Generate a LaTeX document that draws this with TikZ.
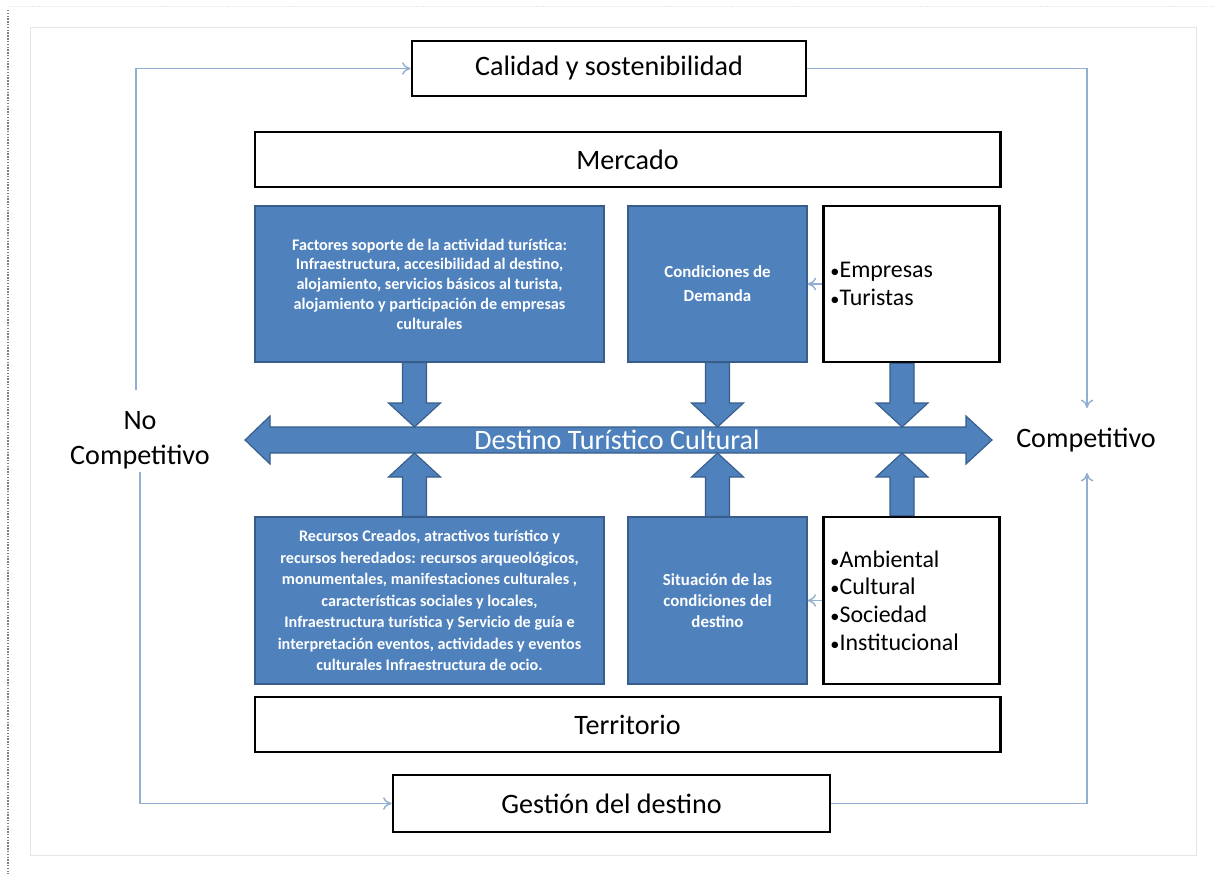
\documentclass[tikz,border=0pt]{standalone}
\usepackage{fontspec}
\setmainfont{Carlito}
\usetikzlibrary{calc,arrows.meta}
\definecolor{boxblue}{RGB}{79,129,189}
\definecolor{edgeblue}{RGB}{56,93,138}
\definecolor{linkblue}{RGB}{146,174,208}
\definecolor{framegray}{RGB}{226,229,233}

\tikzset{
  plainbox/.style={draw=black,line width=2pt,fill=white,inner sep=0pt},
  bluebox/.style={draw=edgeblue,fill=boxblue,line width=0.8pt,text=white,align=center,inner sep=0pt,font=\bfseries\fontsize{11.5}{14}\selectfont},
  blockarrow/.style={draw=edgeblue,fill=boxblue,line width=0.8pt,line join=miter},
  link/.style={linkblue,line width=1pt,->},
  bigtext/.style={font=\fontsize{20}{25}\selectfont},
  listbox/.style={plainbox,align=left,text width=4.05cm,inner xsep=0.18cm,font=\fontsize{17}{19.6}\selectfont}
}

% vertical block arrow: start, tip, direction (1 down, -1 up)
\newcommand{\vblock}[3]{%
  \draw[blockarrow] ($(#1)+(-12,0)$) -- ($(#2)+(-12,{-24*(#3)})$) -- ($(#2)+(-26,{-24*(#3)})$) -- (#2)
    -- ($(#2)+(26,{-24*(#3)})$) -- ($(#2)+(12,{-24*(#3)})$) -- ($(#1)+(12,0)$) -- cycle;}
\newcommand{\bul}{{\fontsize{13}{0}\selectfont•}}

\begin{document}
\begin{tikzpicture}[x=0.025cm,y=-0.025cm,>={To[length=6pt,width=9pt]}]
		\useasboundingbox (0,0) rectangle (1214,874);
		% page frame
		\draw[framegray] (30,27) rectangle (1196,855);
		\draw[framegray,densely dotted] (8,6) -- (1214,6);
		\draw[gray,densely dotted,line width=1pt] (8,10) -- (8,874);
		% outer boxes
		\node[plainbox,bigtext,minimum width=9.85cm,minimum height=1.375cm] (cal) at (609,68.5) {Calidad y sostenibilidad};
		\node[plainbox,bigtext,minimum width=10.925cm,minimum height=1.425cm] (gest) at (611.5,803.5) {Gestión del destino};
		\node[plainbox,bigtext,minimum width=18.625cm,minimum height=1.375cm] (merc) at (627.5,159.5) {Mercado};
		\node[plainbox,bigtext,minimum width=18.625cm,minimum height=1.375cm] (terr) at (627.5,724.5) {Territorio};
		% upper row
		\node[bluebox,minimum width=8.725cm,minimum height=3.9cm] (fac) at (429.5,284)
			{Factores soporte de la actividad turística:\\Infraestructura, accesibilidad al destino,\\alojamiento, servicios básicos al turista,\\alojamiento y participación de empresas\\culturales};
		\node[bluebox,font=\bfseries\fontsize{12}{17}\selectfont,minimum width=4.475cm,minimum height=3.9cm] (dem) at (717.5,284) {Condiciones de\\Demanda};
		\node[listbox,minimum height=3.9cm] (emp) at (911.5,284) {\bul Empresas\\\bul Turistas};
		% lower row
		\node[bluebox,font=\bfseries\fontsize{11.5}{15.3}\selectfont,minimum width=8.725cm,minimum height=4.175cm] (rec) at (429.5,600.5)
			{Recursos Creados, atractivos turístico y\\recursos heredados: recursos arqueológicos,\\monumentales, manifestaciones culturales ,\\características sociales y locales,\\Infraestructura turística y Servicio de guía e\\interpretación eventos, actividades y eventos\\culturales Infraestructura de ocio.};
		\node[bluebox,font=\bfseries\fontsize{12}{15}\selectfont,minimum width=4.475cm,minimum height=4.175cm] (sit) at (717.5,600.5) {Situación de las\\condiciones del\\destino};
		\node[listbox,minimum height=4.175cm] (amb) at (911.5,600.5) {\bul Ambiental\\\bul Cultural\\\bul Sociedad\\\bul Institucional};
		% central double arrow
		\coordinate (hubW) at (245,440);
		\coordinate (hubE) at (992,440);
		\coordinate (hubN) at (618,427);
		\coordinate (hubS) at (618,453);
		\draw[blockarrow] (hubW) -- ($(hubW)+(25,-24)$) -- ($(hubW)+(25,-13)$) -- ($(hubE)+(-26,-13)$) -- ($(hubE)+(-26,-24)$) -- (hubE)
			-- ($(hubE)+(-26,24)$) -- ($(hubE)+(-26,13)$) -- ($(hubW)+(25,13)$) -- ($(hubW)+(25,24)$) -- cycle;
		\node[bigtext,text=white] (hub) at (617,440) {Destino Turístico Cultural};
		% block arrows into the hub
		\coordinate (a1) at ($(fac.south)+(-15,0)$);
		\coordinate (a2) at (dem.south);
		\coordinate (a3) at ($(emp.south)+(-9.5,0)$);
		\coordinate (b1) at ($(rec.north)+(-15,0)$);
		\coordinate (b2) at (sit.north);
		\coordinate (b3) at ($(amb.north)+(-9.5,0)$);
		\vblock{a1}{a1 |- hubN}{1}
		\vblock{a2}{a2 |- hubN}{1}
		\vblock{a3}{a3 |- hubN}{1}
		\vblock{b1}{b1 |- hubS}{-1}
		\vblock{b2}{b2 |- hubS}{-1}
		\vblock{b3}{b3 |- hubS}{-1}
		% side labels
		\node[bigtext,align=center] (nocomp) at (140,440) {No\\Competitivo};
		\node[bigtext] (comp) at (1086,440) {Competitivo};
		% thin connectors
		\coordinate (nlTop) at (136,390);
		\coordinate (nlBot) at (140,472);
		\coordinate (crTop) at (1087,408);
		\coordinate (crBot) at (1087,473);
		\draw[link] (nlTop) |- (cal.west);
		\draw[link] (nlBot) |- (gest.west);
		\draw[link] (cal.east) -| (crTop);
		\draw[link] (gest.east) -| (crBot);
		\draw[link] (emp.west) -- (dem.east);
		\draw[link] (amb.west) -- (sit.east);
	\end{tikzpicture}
\end{document}
